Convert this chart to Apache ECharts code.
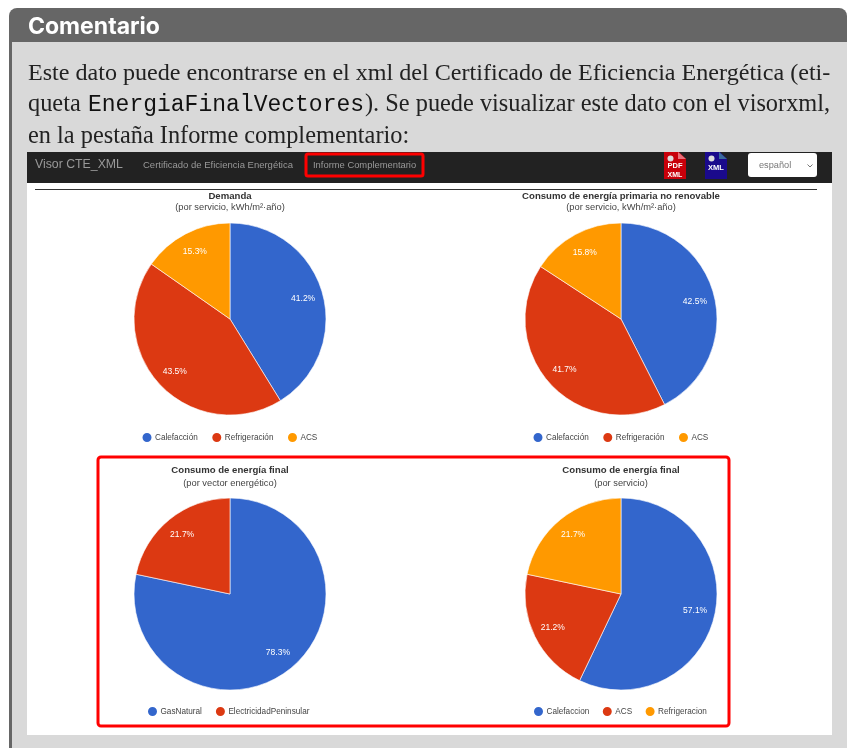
<!DOCTYPE html>
<html>
<head>
<meta charset="utf-8">
<title>Comentario</title>
<style>
html, body { margin: 0; padding: 0; background: #fff; }
#chart { width: 847px; height: 748px; }
</style>
<script src="https://cdn.jsdelivr.net/npm/echarts@6/dist/echarts.min.js"></script>
</head>
<body>
<div id="chart"></div>
<script>
// datos
var demandaNames = ['Calefacción', 'Refrigeración', 'ACS'];
var demandaValues = [41.2, 43.5, 15.3];
var primariaNames = ['Calefacción', 'Refrigeración', 'ACS'];
var primariaValues = [42.5, 41.7, 15.8];
var vectorNames = ['GasNatural', 'ElectricidadPeninsular'];
var vectorValues = [78.3, 21.7];
var servicioNames = ['Calefaccion', 'ACS', 'Refrigeracion'];
var servicioValues = [57.1, 21.2, 21.7];
var pieColors = ['#3366CC', '#DC3912', '#FF9900'];

var SERIF = '"Liberation Serif", serif';
var SANS = '"Liberation Sans", Arial, sans-serif';
var MONO = '"Liberation Mono", monospace';
var BODY_SIZE = 24.1;
var BODY_SIZE_2 = 24.35;
var RADIUS = 96;
var LABEL_R = 76;

function buildPie(names, values, cx, cy) {
    var data = names.map(function (name, i) {
        return { name: name, value: values[i], itemStyle: { color: pieColors[i] } };
    });
    return {
        type: 'pie',
        silent: true,
        animation: false,
        center: [cx, cy],
        radius: [0, RADIUS],
        startAngle: 90,
        clockwise: true,
        data: data,
        itemStyle: { borderColor: '#fff', borderWidth: 0.6 },
        label: {
            position: 'inside',
            color: '#fff',
            fontSize: 8.5,
            fontFamily: SANS,
            formatter: function (p) { return p.value.toFixed(1) + '%'; }
        },
        // google charts deja la etiqueta mas cerca del borde
        labelLayout: function (p) {
            var x = p.labelRect.x + p.labelRect.width / 2 - cx;
            var y = p.labelRect.y + p.labelRect.height / 2 - cy;
            var k = LABEL_R / Math.sqrt(x * x + y * y) - 1;
            return { dx: x * k, dy: y * k };
        },
        labelLine: { show: false }
    };
}

function buildLegend(names, left, top, gap) {
    return {
        // ACS cambia de color entre graficos, el color va en cada item
        data: names.map(function (name, i) {
            return { name: name, itemStyle: { color: pieColors[i] } };
        }),
        left: left,
        top: top,
        padding: 0,
        icon: 'circle',
        itemWidth: 11,
        itemHeight: 11,
        itemGap: gap,
        selectedMode: false,
        textStyle: { fontSize: 8.2, color: '#444', fontFamily: SANS, padding: [0, 0, 0, -2.5] }
    };
}

function buildTitle(text, sub, cx, top, gap) {
    return {
        text: text,
        subtext: sub,
        left: cx,
        top: top,
        padding: 0,
        itemGap: gap,
        textAlign: 'center',
        textStyle: { fontSize: 9.6, fontWeight: 'bold', color: '#333', fontFamily: SANS },
        subtextStyle: { fontSize: 9.3, color: '#444', fontFamily: SANS }
    };
}

function txt(text, x, y, size, color, family, weight, align) {
    return {
        type: 'text', silent: true, x: x, y: y,
        style: {
            text: text, fontSize: size, fill: color, fontFamily: family,
            fontWeight: weight || 'normal', textAlign: align || 'left', textVerticalAlign: 'middle'
        }
    };
}

function box(x, y, w, h, fill, r) {
    return { type: 'rect', silent: true, shape: { x: x, y: y, width: w, height: h, r: r || 0 }, style: { fill: fill } };
}

function frame(x, y, w, h) {
    return {
        type: 'rect', silent: true, z: 10,
        shape: { x: x, y: y, width: w, height: h, r: 3 },
        style: { fill: null, stroke: '#f00', lineWidth: 3 }
    };
}

function fileIcon(x, color, corner, label) {
    return [
        { type: 'polygon', silent: true, shape: { points: [[x, 152], [x + 15, 152], [x + 22, 159], [x + 22, 179], [x, 179]] }, style: { fill: color } },
        { type: 'polygon', silent: true, shape: { points: [[x + 14, 152], [x + 22, 159], [x + 14, 159]] }, style: { fill: corner } },
        { type: 'circle', silent: true, shape: { cx: x + 6.5, cy: 158.5, r: 3 }, style: { fill: '#ddd' } }
    ].concat(label);
}

var graphics = [
    box(9, 8, 838, 740, '#666', [8, 8, 0, 0]),
    box(12, 42, 835, 706, '#d9d9d9'),
    txt('Comentario', 28, 27, 23, '#fff', '"Inter", ' + SANS, 'bold'),
    txt('Este dato puede encontrarse en el xml del Certificado de Eficiencia Energética (eti-', 28, 74, BODY_SIZE, '#222', SERIF),
    txt('queta', 28, 105, BODY_SIZE_2, '#222', SERIF),
    txt('EnergiaFinalVectores', 88, 105, 23, '#111', MONO),
    txt('). Se puede visualizar este dato con el visorxml,', 365, 105, BODY_SIZE_2, '#222', SERIF),
    txt('en la pestaña Informe complementario:', 28, 137, BODY_SIZE_2, '#222', SERIF),
    box(27, 183, 805, 552, '#fff'),
    box(27, 152, 805, 31, '#222'),
    { type: 'rect', silent: true, shape: { x: 35, y: 189, width: 782, height: 1 }, style: { fill: '#333' } },
    txt('Visor CTE_XML', 35, 165, 12.3, '#999', SANS),
    txt('Certificado de Eficiencia Energética', 143, 165, 9.5, '#999', SANS),
    txt('Informe Complementario', 313, 165, 9.4, '#999', SANS),
    {
        type: 'rect', silent: true,
        shape: { x: 306, y: 154, width: 117, height: 22, r: 2 },
        style: { fill: null, stroke: '#f00', lineWidth: 3 }
    },
    box(748, 153, 69, 24, '#fff', 3),
    txt('español', 759, 165, 9.2, '#777', SANS),
    {
        type: 'polyline', silent: true,
        shape: { points: [[807.5, 164.5], [810, 167], [812.5, 164.5]] },
        style: { fill: null, stroke: '#777', lineWidth: 1 }
    },
    frame(98, 457, 631, 269)
].concat(
    fileIcon(664, '#c8000a', '#e8707a', [
        txt('PDF', 675, 166, 7.5, '#fff', SANS, 'bold', 'center'),
        txt('XML', 675, 175.5, 7, '#fff', SANS, 'bold', 'center')
    ]),
    fileIcon(705, '#1a0a8c', '#3a6a9c', [
        txt('XML', 716, 168, 7.5, '#fff', SANS, 'bold', 'center')
    ])
);

var option = {
    backgroundColor: '#fff',
    animation: false,
    graphic: { elements: graphics },
    title: [
        buildTitle('Demanda', '(por servicio, kWh/m²·año)', 230, 191, 2),
        buildTitle('Consumo de energía primaria no renovable', '(por servicio, kWh/m²·año)', 621, 191, 2),
        buildTitle('Consumo de energía final', '(por vector energético)', 230, 465, 4),
        buildTitle('Consumo de energía final', '(por servicio)', 621, 465, 4)
    ],
    legend: [
        buildLegend(demandaNames, 140.5, 431, 12.5),
        buildLegend(primariaNames, 531.5, 431, 12.5),
        buildLegend(vectorNames, 146, 705, 12),
        buildLegend(servicioNames, 532, 705, 11.5)
    ],
    series: [
        buildPie(demandaNames, demandaValues, 230, 319),
        buildPie(primariaNames, primariaValues, 621, 319),
        buildPie(vectorNames, vectorValues, 230, 594),
        buildPie(servicioNames, servicioValues, 621, 594)
    ]
};

var chart = echarts.init(document.getElementById('chart'), null, { renderer: 'canvas' });
chart.setOption(option);
</script>
</body>
</html>
